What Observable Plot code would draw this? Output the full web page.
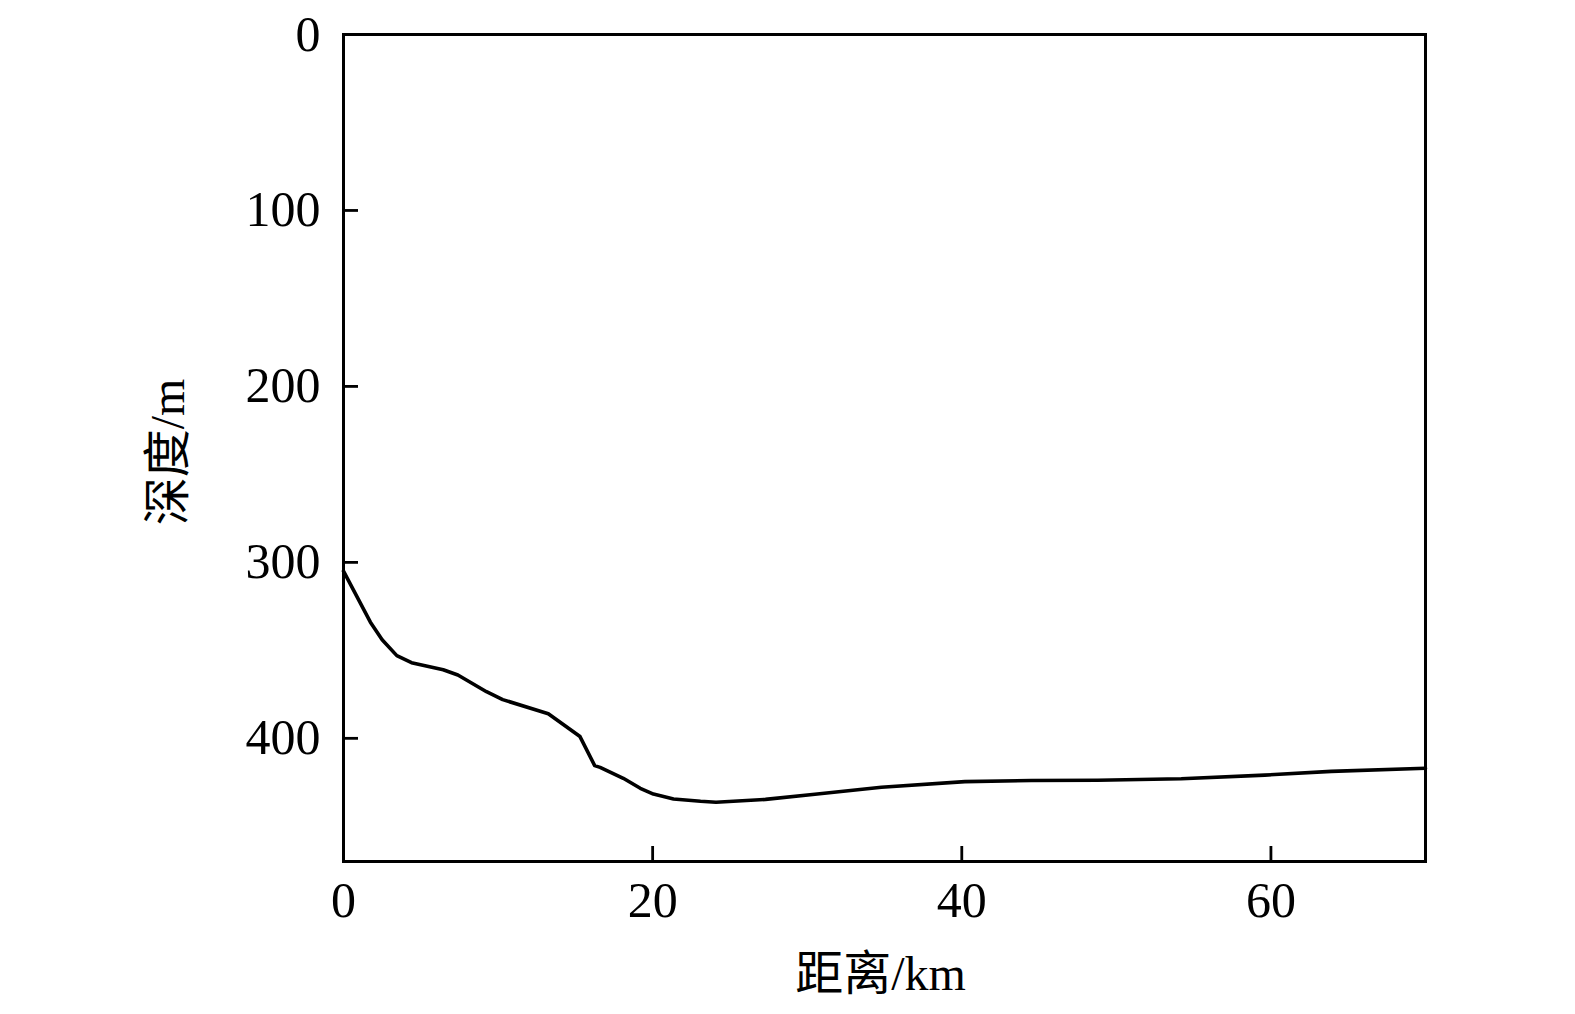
<!DOCTYPE html>
<html>
<head>
<meta charset="utf-8">
<script src="https://cdn.jsdelivr.net/npm/d3@7"></script>
<script src="https://cdn.jsdelivr.net/npm/@observablehq/plot@0.6"></script>
<style>
  html, body { margin: 0; padding: 0; background: #fff; }
</style>
</head>
<body>
<div id="chart"></div>
<script>
const distanceKm = [0, 1.74, 2.5, 3.45, 4.4, 6.45, 7.4, 9.25, 10.3, 13.25, 15.3, 16.25, 16.6, 18.1, 19.2, 20.05, 20.9, 21.35, 23.1, 24.1, 27.3, 30.5, 34.8, 40.2, 44.5, 48.8, 54.2, 59.6, 63.9, 70];
const depthM = [305, 334, 344, 353, 357, 361, 364, 373.5, 378, 386, 399, 415.5, 416.5, 422.7, 428.4, 431.7, 433.5, 434.5, 435.8, 436.3, 434.7, 431.8, 427.8, 424.6, 424, 423.8, 423, 420.9, 418.8, 417];
const xTicks = [0, 20, 40, 60];
const yTicks = [0, 100, 200, 300, 400];
const xLabel = "距离/km";
const yLabel = "深度/m";

const rows = distanceKm.map((d, i) => ({distance: d, depth: depthM[i]}));
const font = "'Liberation Serif', 'Noto Sans CJK SC', serif";

const chart = Plot.plot({
  width: 1575,
  height: 1014,
  marginLeft: 343,
  marginRight: 150,
  marginTop: 34,
  marginBottom: 153,
  style: {fontFamily: font, fontSize: "50px", color: "#000", background: "#fff"},
  x: {domain: [0, 70]},
  y: {domain: [0, 470], reverse: true},
  marks: [
    Plot.axisX({ticks: xTicks, tickSize: -15, tickPadding: 35, strokeWidth: 2.8, label: null, fontSize: 50, tickFormat: d => String(d)}),
    Plot.axisY({ticks: yTicks, tickSize: -15, tickPadding: 38, strokeWidth: 2.8, label: null, fontSize: 50, tickFormat: d => String(d)}),
    Plot.line(rows, {x: "distance", y: "depth", stroke: "#000", strokeWidth: 3.6}),
    Plot.frame({stroke: "#000", strokeWidth: 3}),
    Plot.text([xLabel], {text: d => d, frameAnchor: "bottom", textAnchor: "middle", lineAnchor: "middle", dy: 113, dx: -4, fontSize: 48, fill: "#000"}),
    Plot.text([yLabel], {text: d => d, frameAnchor: "left", textAnchor: "middle", lineAnchor: "middle", dx: -175, dy: 4, rotate: -90, fontSize: 48, fill: "#000"})
  ]
});
document.getElementById("chart").appendChild(chart);
</script>
</body>
</html>
